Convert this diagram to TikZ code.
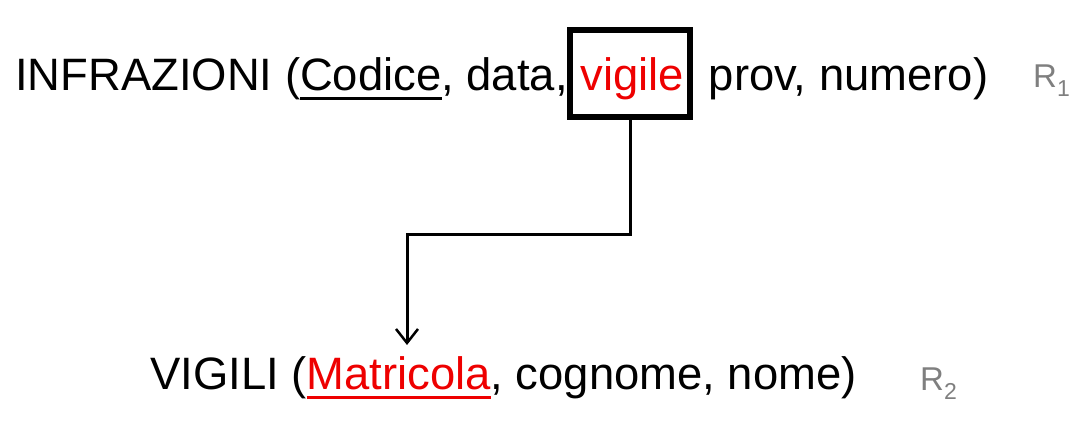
\documentclass[tikz,border=0pt]{standalone}
\usepackage{fontspec}
\setmainfont{Liberation Sans}
\usetikzlibrary{arrows.meta}
\newcommand\myul[1]{\setbox0\hbox{#1}\rlap{\rule[-10pt]{\wd0}{3.5pt}}\box0}
\definecolor{relgray}{HTML}{7F7F7F}
\definecolor{keyred}{HTML}{EE0000}
\tikzset{
  rel/.style={anchor=base west, inner sep=0pt, font=\fontsize{45.4}{54}\selectfont},
  rname/.style={anchor=base west, inner sep=0pt, text=relgray, font=\fontsize{33}{40}\selectfont},
  fkbox/.style={draw, line width=6pt, minimum width=120pt, minimum height=87pt, inner sep=0pt},
  fkarrow/.style={line width=3pt, -{Straight Barb[length=14pt,width=22pt,line width=2.5pt]}}
}
\begin{document}
\begin{tikzpicture}[x=1pt,y=-1pt]
\useasboundingbox (0,0) rectangle (1090,447);
\node[rel] (r1) at (15,90) {INFRAZIONI (\myul{Codice}, data, {\color{keyred}vigile}, prov, numero)};
\node[rname] (r1n) at (1033,87) {R\raisebox{-9pt}{\fontsize{23}{23}\selectfont 1}};
\node[fkbox] (vbox) at (630,73.5) {};
\node[rel] (r2) at (150,389) {VIGILI ({\color{keyred}\myul{Matricola}}, cognome, nome)};
\node[rname] (r2n) at (920,390) {R\raisebox{-9pt}{\fontsize{23}{23}\selectfont 2}};
\coordinate (mt) at (407,345);
\draw[fkarrow] (vbox.south) |- (407,234.5) -- (mt);
\end{tikzpicture}
\end{document}
